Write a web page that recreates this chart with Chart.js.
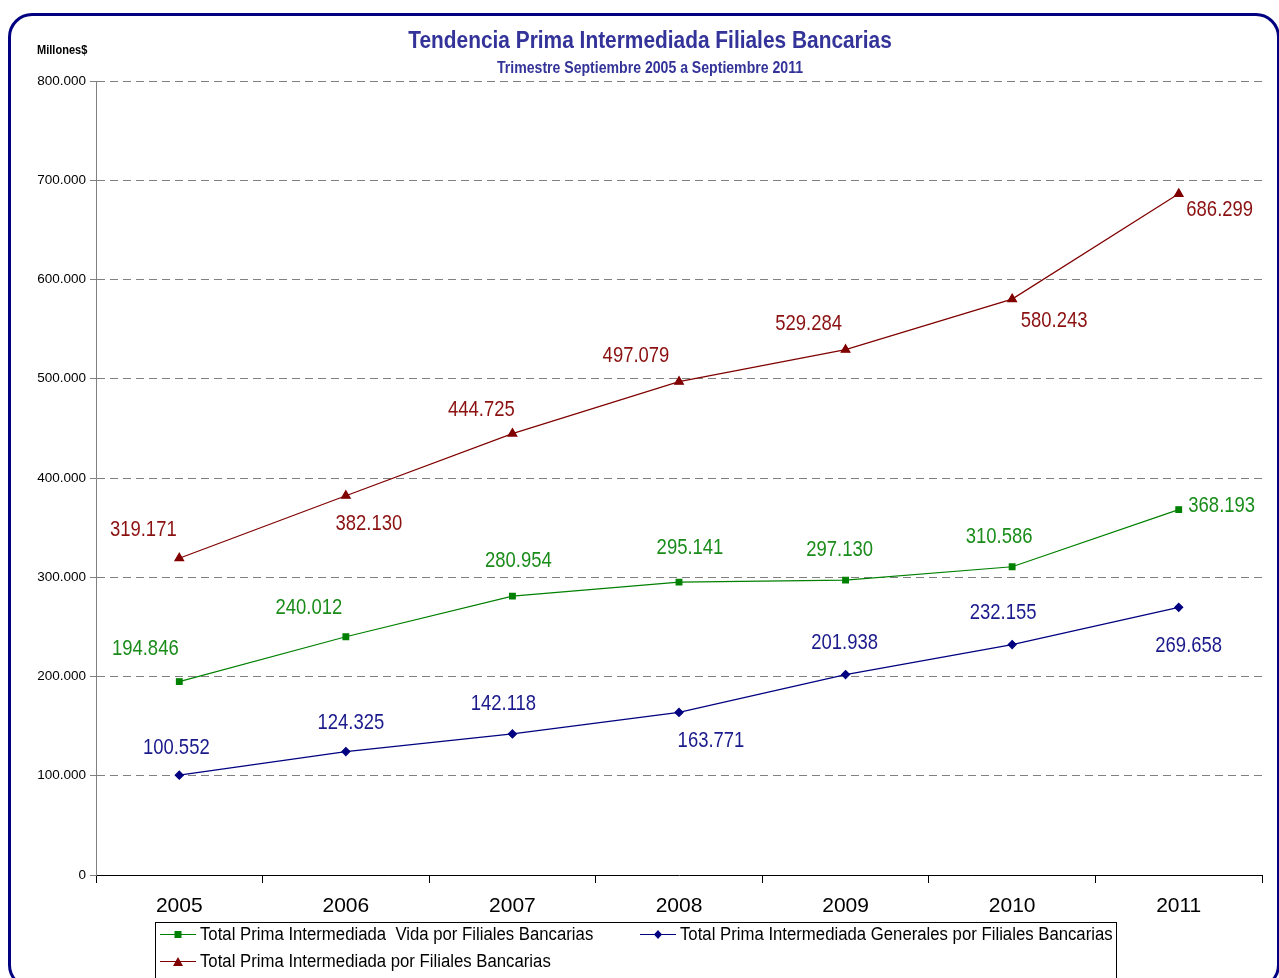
<!DOCTYPE html>
<html>
<head>
<meta charset="utf-8">
<script src="https://cdn.jsdelivr.net/npm/chart.js@4.4.1/dist/chart.umd.min.js"></script>
<style>
  html, body { margin: 0; padding: 0; background: #fff; overflow: hidden; }
  #frame { position: absolute; left: 8px; top: 13px; width: 1266px; height: 970px;
           border: 3px solid #000080; border-radius: 24px; }
  #wrap { position: absolute; left: 0; top: 0; width: 1279px; height: 978px; }
</style>
</head>
<body>
<div id="frame"></div>
<div id="wrap"><canvas id="chart"></canvas></div>
<script>
// datos
const years = ["2005", "2006", "2007", "2008", "2009", "2010", "2011"];
const vida = [194846, 240012, 280954, 295141, 297130, 310586, 368193];
const generales = [100552, 124325, 142118, 163771, 201938, 232155, 269658];
const total = [319171, 382130, 444725, 497079, 529284, 580243, 686299];
const yTicks = [0, 100000, 200000, 300000, 400000, 500000, 600000, 700000, 800000];

const sans = "'Liberation Sans', Arial, sans-serif";

function miles(v) {
    return String(v).replace(/\B(?=(\d{3})+(?!\d))/g, '.');
}

// texto angosto (no hay Arial Narrow): se comprime en horizontal
function narrowText(ctx, text, x, y, font, sx) {
    ctx.save();
    ctx.font = font;
    ctx.translate(x, y);
    ctx.scale(sx, 1);
    ctx.fillText(text, 0, 0);
    ctx.restore();
}

// offsets of each value label from its point
const labelOffsets = [
    [[-34, -33], [-37, -29], [6, -35], [11, -34], [-6, -30], [-13, -30], [43, -4]],
    [[-3, -27], [5, -29], [-9, -30], [32, 28], [-1, -32], [-9, -32], [10, 39]],
    [[-36, -28], [23, 28], [-31, -24], [-43, -26], [-37, -26], [42, 22], [41, 16]]
];

const extras = {
    id: 'extras',
    afterDatasetsDraw(chart) {
        const ctx = chart.ctx;
        ctx.save();
        ctx.textAlign = 'center';
        ctx.textBaseline = 'middle';
        chart.data.datasets.forEach(function (ds, i) {
            const meta = chart.getDatasetMeta(i);
            ctx.fillStyle = ds.labelColor;
            meta.data.forEach(function (pt, j) {
                const off = labelOffsets[i][j];
                narrowText(ctx, miles(ds.data[j]), pt.x + off[0], pt.y + off[1], '22px ' + sans, 0.84);
            });
        });
        ctx.restore();
    },
    afterDraw(chart) {
        const ctx = chart.ctx;
        ctx.save();
        ctx.textBaseline = 'middle';
        ctx.textAlign = 'center';
        ctx.fillStyle = '#333399';
        narrowText(ctx, 'Tendencia Prima Intermediada Filiales Bancarias', 650, 41, 'bold 24px ' + sans, 0.87);
        narrowText(ctx, 'Trimestre Septiembre 2005 a Septiembre 2011', 650, 69, 'bold 16px ' + sans, 0.88);
        ctx.textAlign = 'left';
        ctx.fillStyle = '#000';
        narrowText(ctx, 'Millones$', 37, 50, 'bold 13px ' + sans, 0.85);

        // leyenda
        ctx.strokeStyle = '#000';
        ctx.lineWidth = 1;
        ctx.strokeRect(155.5, 922.5, 961, 60);
        const slots = [[160, 934], [640, 934], [160, 961]];
        chart.data.datasets.forEach(function (ds, i) {
            const x = slots[i][0], y = slots[i][1];
            ctx.strokeStyle = ds.borderColor;
            ctx.beginPath();
            ctx.moveTo(x, y + 0.5);
            ctx.lineTo(x + 36, y + 0.5);
            ctx.stroke();
            ctx.fillStyle = ds.borderColor;
            const cx = x + 18;
            ctx.beginPath();
            if (ds.pointStyle === 'rect') {
                ctx.rect(cx - 3.5, y - 3, 7, 7);
            } else if (ds.pointStyle === 'rectRot') {
                ctx.moveTo(cx, y - 4); ctx.lineTo(cx + 4, y + 0.5);
                ctx.lineTo(cx, y + 5); ctx.lineTo(cx - 4, y + 0.5);
            } else {
                ctx.moveTo(cx, y - 4); ctx.lineTo(cx + 5, y + 5); ctx.lineTo(cx - 5, y + 5);
            }
            ctx.closePath();
            ctx.fill();
            ctx.fillStyle = '#000';
            narrowText(ctx, ds.label, x + 40, y + 1, '18px ' + sans, 0.93);
        });
        ctx.restore();
    }
};

new Chart(document.getElementById('chart'), {
    type: 'line',
    data: {
        labels: years,
        datasets: [
            {
                label: 'Total Prima Intermediada  Vida por Filiales Bancarias',
                data: vida,
                borderColor: '#008000',
                backgroundColor: '#008000',
                labelColor: '#1a8c1a',
                pointStyle: 'rect',
                pointRadius: 4,
                borderWidth: 1.2
            },
            {
                label: 'Total Prima Intermediada Generales por Filiales Bancarias',
                data: generales,
                borderColor: '#000080',
                backgroundColor: '#000080',
                labelColor: '#1a1a8c',
                pointStyle: 'rectRot',
                pointRadius: 4,
                borderWidth: 1.2
            },
            {
                label: 'Total Prima Intermediada por Filiales Bancarias',
                data: total,
                borderColor: '#800000',
                backgroundColor: '#800000',
                labelColor: '#8b1010',
                pointStyle: 'triangle',
                pointRadius: 5,
                borderWidth: 1.2
            }
        ]
    },
    options: {
        responsive: true,
        maintainAspectRatio: false,
        animation: false,
        events: [],
        layout: { padding: { top: 81, right: 17, left: 0, bottom: 0 } },
        plugins: {
            legend: { display: false },
            title: { display: false },
            tooltip: { enabled: false }
        },
        scales: {
            x: {
                offset: true,
                afterFit: function (scale) { scale.height = 103; },
                grid: { drawOnChartArea: false, drawTicks: true, tickLength: 8, color: '#000', offset: true },
                border: { display: true, color: '#000', width: 1 },
                ticks: { color: '#000', font: { family: sans, size: 21 }, padding: 11 }
            },
            y: {
                min: 0,
                max: 800000,
                afterFit: function (scale) { scale.width = 96; },
                afterBuildTicks: function (scale) {
                    scale.ticks = yTicks.map(function (v) { return { value: v }; });
                },
                grid: { color: '#808080', lineWidth: 1, tickLength: 6, tickColor: '#808080' },
                border: { display: true, color: '#808080', width: 1, dash: [8, 5] },
                ticks: {
                    color: '#000',
                    font: { family: sans, size: 13.5 },
                    padding: 4,
                    callback: function (v) { return miles(v); }
                }
            }
        }
    },
    plugins: [extras]
});
</script>
</body>
</html>
